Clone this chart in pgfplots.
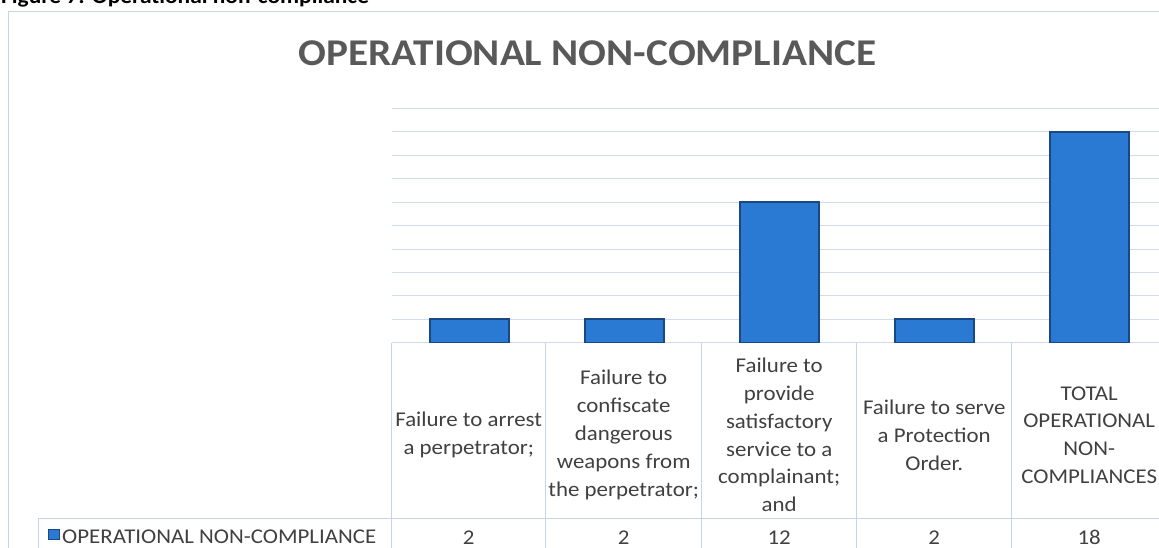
\documentclass[border=0pt]{standalone}
\usepackage{pgfplots}
\pgfplotsset{compat=1.18}
\usepackage{fontspec}
\setmainfont{Carlito}[FakeStretch=1.09]
\definecolor{gridc}{RGB}{208,220,234}
\definecolor{tabc}{RGB}{198,212,228}
\definecolor{barfill}{RGB}{42,122,212}
\definecolor{bardraw}{RGB}{26,72,132}
\definecolor{titlec}{RGB}{89,89,89}
\definecolor{textc}{RGB}{64,64,64}
\begin{document}
\begin{tikzpicture}[x=1pt,y=1pt]
\useasboundingbox (0,0) rectangle (1159,548);
\clip (0,0) rectangle (1159,548);
% caption (cut by the top edge, as in the reference)
\node[anchor=base west, inner sep=0pt, font=\fontsize{21.5}{25}\selectfont\bfseries] at (1,544.5) {Figure 7: Operational non-compliance};
% outer chart border
\draw[tabc, line width=0.8pt] (8,0) -- (8,536.3) -- (1170,536.3);
% title
\node[anchor=base, inner sep=0pt, text=titlec, font=\fontsize{37.8}{44}\selectfont\bfseries] at (587.5,482) {OPERATIONAL NON-COMPLIANCE};
\begin{axis}[
  at={(391.7pt,205.3pt)}, anchor=south west,
  scale only axis, width=775pt, height=234.4pt,
  xmin=-0.5, xmax=4.5, ymin=0, ymax=20,
  ytick={0,2,...,20}, xtick=\empty, yticklabels={},
  ymajorgrids, grid style={gridc, line width=0.8pt},
  axis line style={draw=none}, major tick length=0pt,
  clip=false,
]
\addplot[ybar, bar width=79pt, bar shift=0pt, draw=bardraw, line width=1.6pt,
  fill=barfill]
  coordinates {(0,2) (1,2) (2,12) (3,2) (4,18)};
\end{axis}
% table lines
\foreach \xx in {391.7,545.7,701.7,856.7,1011.7,1166.7}
  \draw[tabc, line width=0.8pt] (\xx,0) -- (\xx,205.3);
\draw[tabc, line width=0.8pt] (38,29.5) -- (1170,29.5);
\draw[tabc, line width=0.8pt] (38,0) -- (38,29.5);
% category cells
\tikzset{cat/.style={anchor=center, align=center, inner sep=0pt, text=textc,
  font=\fontsize{21}{27.8}\selectfont}}
\node[cat] at (468.7,113) {Failure to arrest\\a perpetrator;};
\node[cat] at (623.7,113) {Failure to\\confiscate\\dangerous\\weapons from\\the perpetrator;};
\node[cat] at (779.2,113) {Failure to\\provide\\satisfactory\\service to a\\complainant;\\and};
\node[cat] at (934.2,113) {Failure to serve\\a Protection\\Order.};
\node[cat] at (1089.2,113) {TOTAL\\OPERATIONAL\\NON-\\COMPLIANCES};
% value row
\tikzset{val/.style={anchor=base, inner sep=0pt, text=textc, font=\fontsize{21}{25}\selectfont}}
\node[val] at (468.7,3.5) {2};
\node[val] at (623.7,3.5) {2};
\node[val] at (779.2,3.5) {12};
\node[val] at (934.2,3.5) {2};
\node[val] at (1089.2,3.5) {18};
% legend key and row label
\fill[barfill, draw=bardraw, line width=1pt] (48.5,8.5) rectangle (59.5,18.5);
\node[anchor=base west, inner sep=0pt, text=textc, font=\fontsize{21}{25}\selectfont] at (62,4) {OPERATIONAL NON-COMPLIANCE};
\end{tikzpicture}
\end{document}
